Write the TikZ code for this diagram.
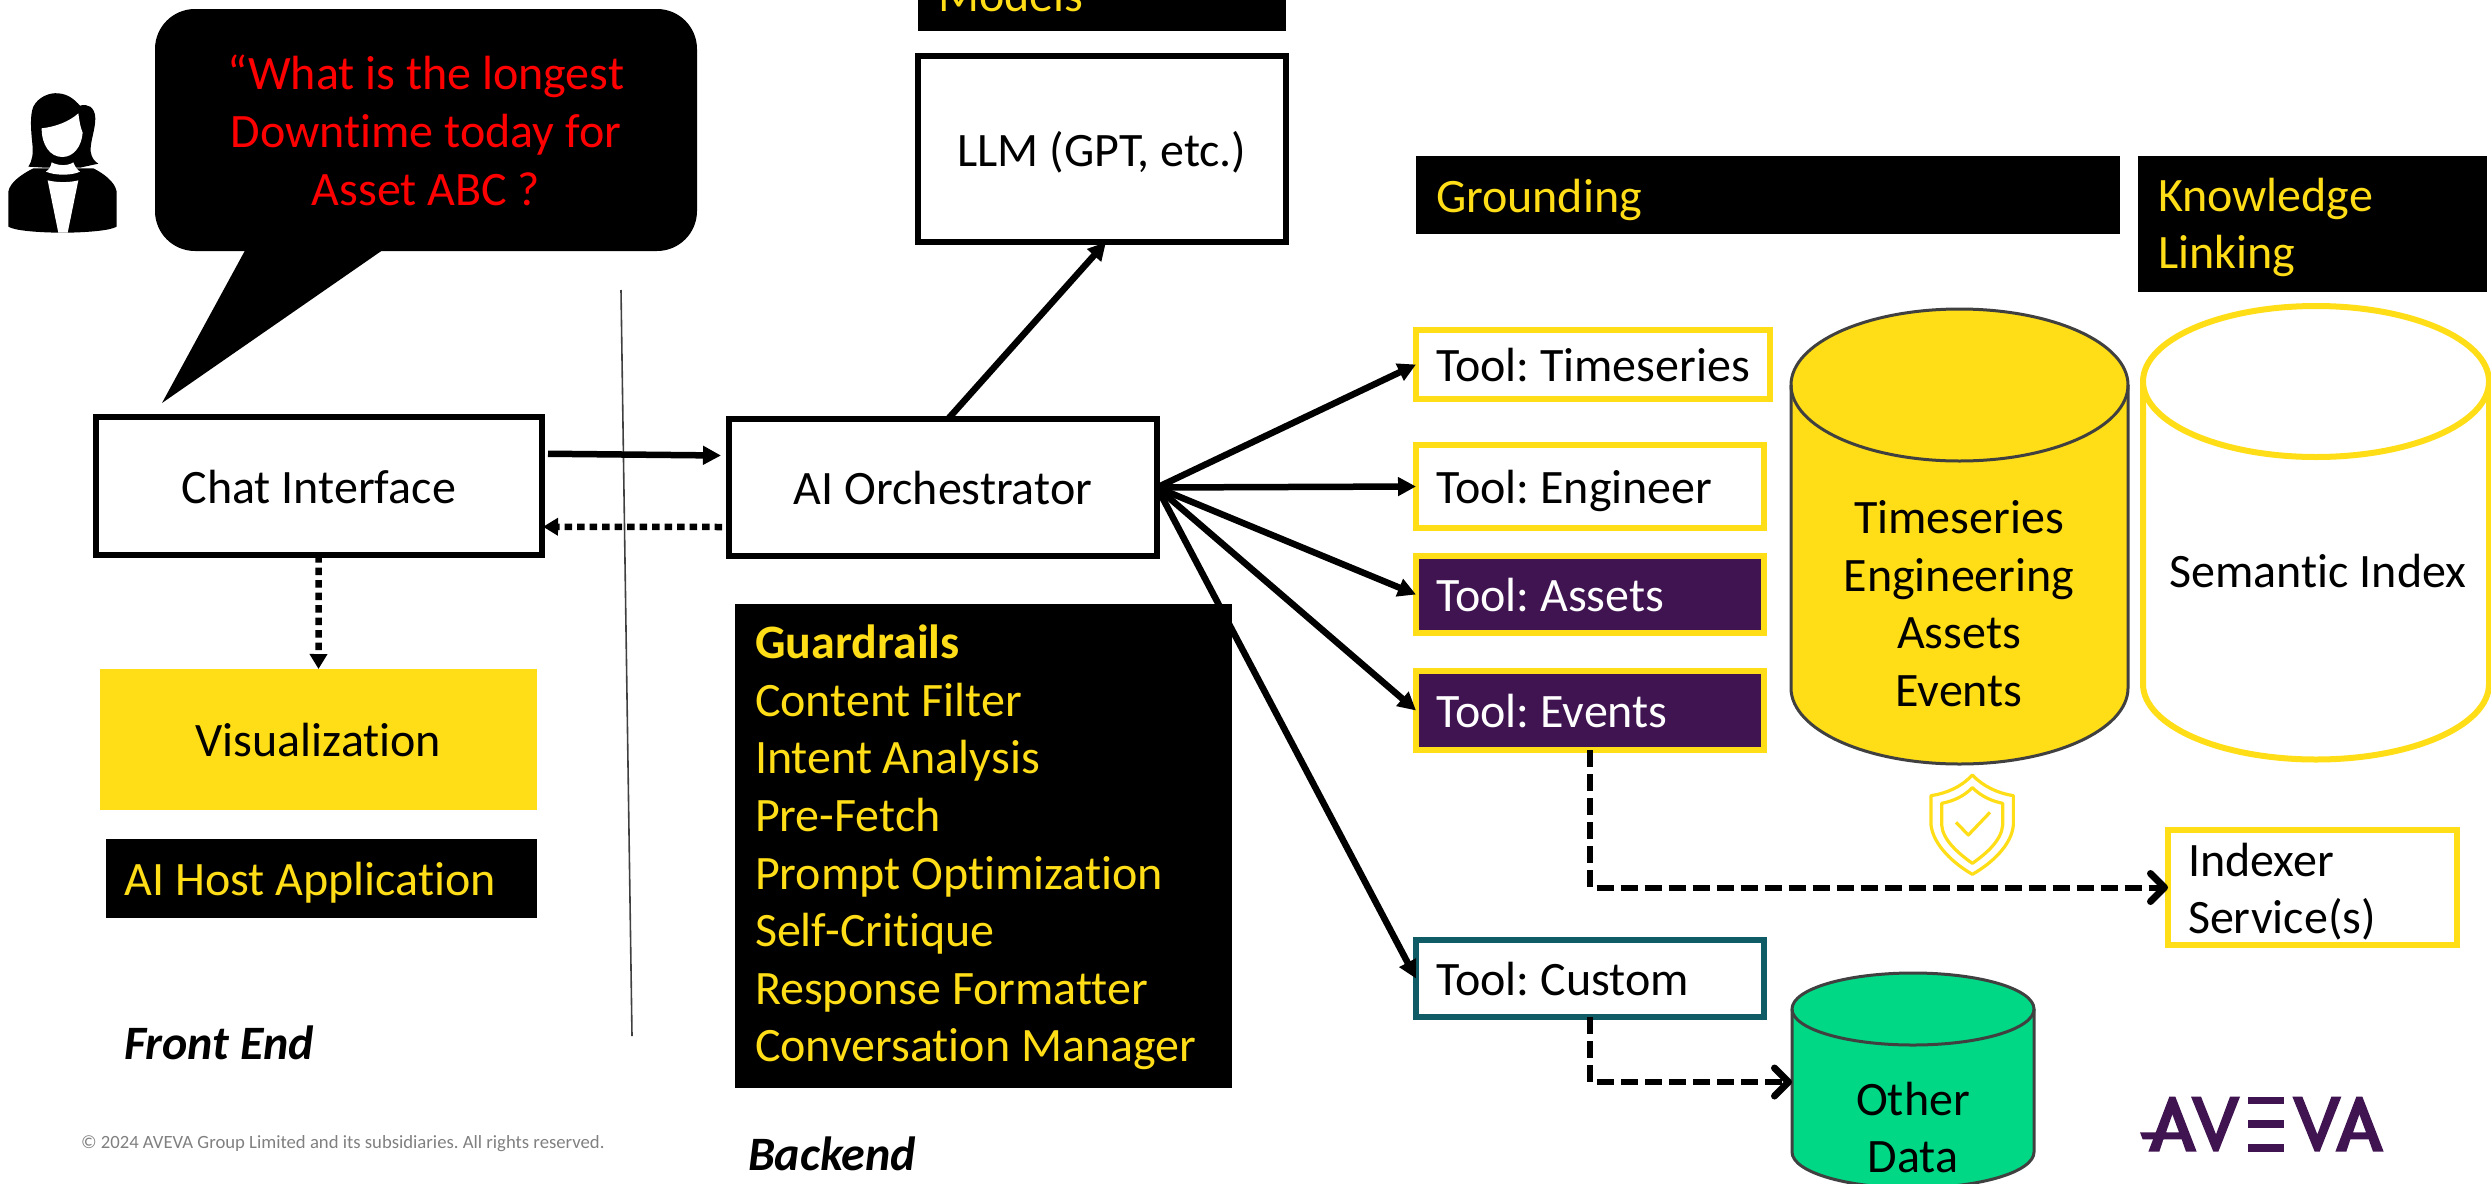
\documentclass[tikz,border=0pt]{standalone}
\usepackage{fontspec}
\setmainfont{Carlito}[Ligatures=NoCommon]
\usetikzlibrary{arrows.meta}
\definecolor{avyellow}{HTML}{FFDD17}
\definecolor{avpurple}{HTML}{3F1451}
\definecolor{avgreen}{HTML}{00D885}
\definecolor{avteal}{HTML}{0F5C66}
\definecolor{avgray}{HTML}{404040}
\newcommand\st{\rule[-11.4pt]{0pt}{57.6pt}}
\hyphenpenalty=10000
\frenchspacing
\newcommand\dbcyl[6]{% style, cx, rx, cy, ry, side bottom
  \path[#1] ({#2-#3},#4) -- ({#2-#3},#6)
    .. controls ({#2-#3},{#6+.5523*#5}) and ({#2-.5523*#3},{#6+#5}) .. (#2,{#6+#5})
    .. controls ({#2+.5523*#3},{#6+#5}) and ({#2+#3},{#6+.5523*#5}) .. ({#2+#3},#6)
    -- ({#2+#3},#4);
  \path[#1] (#2,#4) ellipse [x radius=#3, y radius=#5];
}
\newcommand\avA[1]{% an A of the logo, offset in 1/3 px
  \fill[avpurple,even odd rule] ({#1+55},200) -- ({#1+118},35) -- ({#1+136},35) -- ({#1+200},200) -- ({#1+168},200) -- ({#1+155},163) -- ({#1+100},163) -- ({#1+88},200) -- cycle
    ({#1+127},88) -- ({#1+147},142) -- ({#1+108},142) -- cycle;
}
\newcommand\avV[1]{%
  \fill[avpurple] ({#1+183},35) -- ({#1+213},35) -- ({#1+258},148) -- ({#1+300},35) -- ({#1+330},35) -- ({#1+265},200) -- ({#1+250},200) -- cycle;
}
\tikzset{
  txt/.style={font=\fontsize{48}{57.6}\selectfont,inner sep=0pt,outer sep=0pt},
  boxed/.style={txt,draw=black,line width=6pt,fill=white,align=center},
  solidblack/.style={txt,fill=black,text=avyellow,align=flush left,text width=#1},
  toolbox/.style={txt,draw=avyellow,line width=6pt,fill=white,align=flush left,inner xsep=20pt},
  conn/.style={line width=6.5pt,-{Triangle[length=18pt,width=18pt]}},
  dotconn/.style={line width=6.5pt,dash pattern=on 7.5pt off 5pt,-{Triangle[length=15pt,width=17pt]}},
  dashconn/.style={line width=6pt,dash pattern=on 17pt off 7pt,
    -{Straight Barb[length=14pt,width=28pt,line width=7pt,round]}},
}
\begin{document}
\begin{tikzpicture}[x=1pt,y=-1pt]
\useasboundingbox (0,0) rectangle (2491,1183);
\clip (0,0) rectangle (2491,1183);

% person
\begin{scope}[shift={(0,85)},x=.33333pt,y=-.33333pt]
  \fill[black] (85,245) .. controls (98,225) and (100,205) .. (97,175)
    .. controls (92,130) and (90,90) .. (100,65)
    .. controls (115,35) and (150,22) .. (175,25)
    .. controls (205,27) and (225,45) .. (240,62)
    .. controls (262,55) and (285,65) .. (286,100)
    .. controls (286,135) and (270,170) .. (272,200)
    .. controls (275,220) and (285,230) .. (295,236)
    -- (240,248) -- (135,248) -- cycle;
  \fill[white] (125,130) .. controls (170,125) and (210,108) .. (235,85)
    .. controls (238,105) and (240,125) .. (248,143)
    .. controls (245,185) and (220,216) .. (187,216)
    .. controls (150,216) and (125,180) .. (125,130) -- cycle;
  \fill[black] (25,425) -- (25,320)
    .. controls (30,290) and (70,265) .. (100,250)
    -- (280,250)
    .. controls (310,265) and (345,290) .. (350,320)
    -- (350,425)
    .. controls (330,437) and (260,442) .. (203,443)
    -- (175,443)
    .. controls (110,442) and (45,437) .. (25,425) -- cycle;
  \fill[white] (155,232) .. controls (175,243) and (205,243) .. (220,232)
    .. controls (225,245) and (232,255) .. (240,260)
    .. controls (215,272) and (165,272) .. (138,260)
    .. controls (147,253) and (153,245) .. (155,232) -- cycle;
  \fill[white] (143,286) .. controls (170,293) and (210,293) .. (235,286) -- (203,443) -- (175,443) -- cycle;
\end{scope}

% speech bubble
\fill[black] (248,245) -- (162,403) -- (390,245) -- cycle;
\node[txt,fill=black,rounded corners=40pt,minimum width=542pt,minimum height=242pt,text=red,align=center] (bubble) at (426,130)
  {\st “What is the longest\\\st Downtime today for\\\st Asset ABC ?};

% divider
\coordinate (divtop) at (621,290);
\coordinate (divbot) at (632,1036);
\draw[avgray,line width=1.6pt] (divtop) -- (divbot);

% main boxes
\node[boxed,minimum width=446.5pt,minimum height=138.5pt] (chat) at (318.75,485.75) {\st Chat Interface};
\node[boxed,minimum width=428pt,minimum height=137pt] (ai) at (943,487.5) {\st AI Orchestrator};
\node[boxed,minimum width=368pt,minimum height=186pt] (llm) at (1102,149) {\st LLM (GPT, etc.)};
\node[txt,fill=avyellow,minimum width=437pt,minimum height=141pt] (viz) at (318.5,739.5) {\st Visualization};
\node[solidblack=393pt,inner xsep=19pt,minimum height=79pt] (host) at (321,878.5) {\st AI Host Application};
\node[txt,font=\fontsize{48}{57.6}\selectfont\bfseries\itshape,anchor=west] (front) at (124,1042) {\st Front End};
\node[txt,font=\fontsize{48}{57.6}\selectfont\bfseries\itshape,anchor=west] (back) at (748,1153) {\st Backend};
\node[txt,font=\fontsize{18.7}{22}\selectfont,text=black!50,anchor=west] (copy) at (81,1144) {© 2024 AVEVA Group Limited and its subsidiaries. All rights reserved.};
\node[solidblack=328pt,inner xsep=20pt,minimum height=74pt] (models) at (1102,-6) {\st Models};

% tool boxes
\node[toolbox,minimum width=354pt,minimum height=69pt,text width=314pt] (ts) at (1593,364.5) {\st Tool: Timeseries};
\node[toolbox,minimum width=348pt,minimum height=83pt,text width=308pt] (eng) at (1590,486.5) {\st Tool: Engineer};
\node[toolbox,minimum width=348pt,minimum height=77pt,text width=308pt,fill=avpurple,text=white] (assets) at (1590,594.5) {\st Tool: Assets};
\node[toolbox,minimum width=348pt,minimum height=79pt,text width=308pt,fill=avpurple,text=white] (events) at (1590,710.5) {\st Tool: Events};
\node[toolbox,draw=avteal,minimum width=348pt,minimum height=77pt,text width=308pt] (custom) at (1590,978.5) {\st Tool: Custom};
\node[toolbox,minimum width=289pt,minimum height=109pt,text width=249pt] (indexer) at (2312.5,887.5) {\st Indexer\\\st Service(s)};

% cylinders
\dbcyl{fill=avyellow}{1959.5}{168.5}{385}{76}{688}
\dbcyl{draw=avgray,line width=3pt}{1959.5}{168.5}{385}{76}{688}
\node[txt,align=center] (dbtext) at (1959,602.5) {\st Timeseries\\\st Engineering\\\st Assets\\\st Events};
\dbcyl{draw=avyellow,fill=white,line width=6pt}{2316}{173}{381.5}{75.5}{684}
\node[txt,align=center] (semantic) at (2318,570.5) {\st Semantic Index};
\dbcyl{fill=avgreen}{1913}{121}{1009}{36}{1152}
\dbcyl{draw=avgray,line width=3pt}{1913}{121}{1009}{36}{1152}
\node[txt,align=center] (other) at (1913,1126.5) {\st Other\\\st Data};
\coordinate (otherleft) at (1792,1082);

% connectors
\draw[conn] ([xshift=6pt,yshift=32pt]chat.east) -- ([xshift=-8pt,yshift=32pt]ai.west);
\draw[dotconn] ([xshift=-7pt,yshift=-39.5pt]ai.west) -- ([xshift=1pt,yshift=-41pt]chat.east);
\draw[dotconn] (chat.south) -- (viz.north);
\draw[conn] ([xshift=5pt]ai.north) -- ([xshift=4pt]llm.south);
\draw[conn] (ai.east) -- (ts.west);
\draw[conn] (ai.east) -- (eng.west);
\draw[conn] (ai.east) -- (assets.west);
\draw[conn] (ai.east) -- (events.west);
\draw[conn] (ai.east) -- (custom.west);
\draw[dashconn] (events.south) |- (indexer.west);
\draw[dashconn] (custom.south) |- (otherleft);

% guardrails box sits over the fan of arrows
\node[solidblack=457pt,inner xsep=20pt,minimum height=484pt] (guard) at (983.5,846)
  {\st \textbf{Guardrails}\\\st Content Filter\\\st Intent Analysis\\\st Pre-Fetch\\\st Prompt Optimization\\\st Self-Critique\\\st Response Formatter\\\st Conversation Manager\rule[-17.8pt]{0pt}{1pt}};

% heading boxes
\node[solidblack=664pt,inner xsep=20pt,minimum height=78pt] (ground) at (1768,195) {\st Grounding};
\node[solidblack=309pt,inner xsep=20pt,minimum height=136pt] (know) at (2312.5,224) {\st Knowledge\\\st Linking\rule[-14.4pt]{0pt}{1pt}};

% shield
\begin{scope}[shift={(1920,765)},x=.33333pt,y=-.33333pt,draw=avyellow,line width=3.2pt,line join=round]
  \draw (157,30) .. controls (190,65) and (235,85) .. (280,92) -- (280,180)
    .. controls (275,240) and (215,295) .. (157,328)
    .. controls (100,295) and (40,240) .. (33,180) -- (33,92)
    .. controls (80,85) and (125,65) .. (157,30) -- cycle;
  \draw (157,68) .. controls (185,95) and (215,108) .. (248,115) -- (248,180)
    .. controls (245,225) and (200,265) .. (157,295)
    .. controls (115,265) and (68,225) .. (65,180) -- (65,115)
    .. controls (100,108) and (130,95) .. (157,68) -- cycle;
  \draw (108,172) -- (145,210) -- (210,142);
\end{scope}

% logo
\begin{scope}[shift={(2130,1085)},x=.33333pt,y=-.33333pt]
  \avA{0}
  \fill[avpurple] (30,142) -- (110,142) -- (102,163) -- (38,163) -- cycle;
  \avV{0}
  \fill[avpurple] (353,35) rectangle (463,58);
  \fill[avpurple] (353,105) rectangle (463,128);
  \fill[avpurple] (353,176) rectangle (463,200);
  \avV{304}
  \avA{561}
\end{scope}
\end{tikzpicture}
\end{document}
